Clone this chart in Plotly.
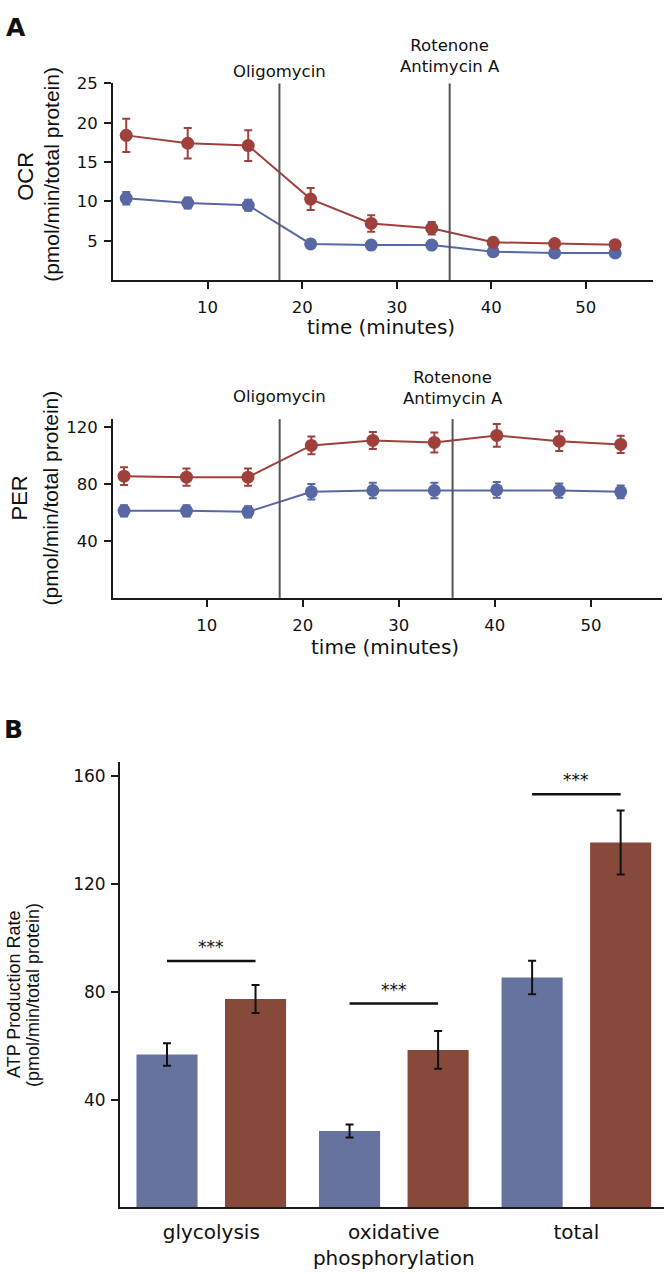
import plotly.graph_objects as go

# ---------------- data ----------------
time_min = [1.4, 7.9, 14.3, 20.9, 27.3, 33.7, 40.2, 46.7, 53.1]
injections = [17.6, 35.6]
injection_labels = ["Oligomycin", "Rotenone<br>Antimycin A"]

ocr_ctrl = [10.4, 9.8, 9.5, 4.6, 4.45, 4.45, 3.6, 3.45, 3.45]
ocr_ctrl_err = [0.8, 0.7, 0.7, 0.3, 0.3, 0.3, 0.35, 0.3, 0.3]
ocr_trt = [18.4, 17.4, 17.1, 10.3, 7.2, 6.6, 4.8, 4.65, 4.5]
ocr_trt_err = [2.1, 1.95, 1.95, 1.4, 1.05, 0.8, 0.35, 0.3, 0.3]

per_ctrl = [61.1, 61.1, 60.4, 74.5, 75.4, 75.4, 75.9, 75.4, 74.5]
per_ctrl_err = [4.0, 4.0, 4.0, 5.5, 5.5, 5.5, 5.5, 5.0, 4.5]
per_trt = [85.5, 84.8, 84.8, 107.1, 110.6, 109.2, 114.1, 110.1, 107.8]
per_trt_err = [6.3, 6.0, 6.0, 6.3, 6.0, 7.0, 8.0, 7.0, 6.0]

atp_categories = ["glycolysis", "oxidative<br>phosphorylation", "total"]
atp_ctrl = [56.8, 28.4, 85.4]
atp_ctrl_err = [4.2, 2.4, 6.2]
atp_trt = [77.4, 58.5, 135.5]
atp_trt_err = [5.2, 7.0, 11.9]
sig_levels = [91.5, 75.7, 153.4]
sig_labels = ["***", "***", "***"]

# ---------------- style ----------------
W, H = 664, 1274
FONT = "DejaVu Sans, Liberation Sans, sans-serif"
FONT_ROT = "Liberation Sans, Arial, sans-serif"
RED_LINE = "#a0403c"
BLUE_LINE = "#5868a5"
RED_BAR = "#87493a"
BLUE_BAR = "#66739e"
AX = "#1a1a1a"
VLINE = "#555555"


def px(x):
    return x / W


def py(y):
    return 1 - y / H


fig = go.Figure()


def add_line(xa, ya, y, err, color):
    fig.add_trace(go.Scatter(
        x=time_min, y=y, mode="lines+markers", xaxis=xa, yaxis=ya,
        line=dict(color=color, width=2),
        marker=dict(color=color, size=13),
        error_y=dict(type="data", array=err, color=color, thickness=2, width=4),
        showlegend=False, cliponaxis=False,
    ))


add_line("x", "y", ocr_ctrl, ocr_ctrl_err, BLUE_LINE)
add_line("x", "y", ocr_trt, ocr_trt_err, RED_LINE)
add_line("x2", "y2", per_ctrl, per_ctrl_err, BLUE_LINE)
add_line("x2", "y2", per_trt, per_trt_err, RED_LINE)

fig.add_trace(go.Bar(
    x=atp_categories, y=atp_ctrl, xaxis="x3", yaxis="y3",
    marker=dict(color=BLUE_BAR, line=dict(width=0)),
    error_y=dict(type="data", array=atp_ctrl_err, color="#111", thickness=2, width=4),
    showlegend=False,
))
fig.add_trace(go.Bar(
    x=atp_categories, y=atp_trt, xaxis="x3", yaxis="y3",
    marker=dict(color=RED_BAR, line=dict(width=0)),
    error_y=dict(type="data", array=atp_trt_err, color="#111", thickness=2, width=4),
    showlegend=False,
))

BARGAP = 0.03
BARGROUPGAP = 0.31
half_slot = (1 - BARGAP) / 4  # offset of each bar centre from category centre

common_axis = dict(
    showline=True, linecolor=AX, linewidth=2, showgrid=False, zeroline=False,
    ticks="outside", tickcolor=AX, tickwidth=2, ticklen=7,
    tickfont=dict(family=FONT, size=16.5, color="#111"),
)

fig.update_layout(
    width=W, height=H, margin=dict(l=0, r=0, t=0, b=0),
    paper_bgcolor="white", plot_bgcolor="white",
    barmode="group", bargap=BARGAP, bargroupgap=BARGROUPGAP,
    font=dict(family=FONT, color="#111"),
    xaxis=dict(common_axis, domain=[px(113), px(653)], range=[0, 57.1],
               tickvals=[10, 20, 30, 40, 50], anchor="y", ticklabelstandoff=4),
    yaxis=dict(common_axis, domain=[py(273), py(75)], range=[0, 25],
               tickvals=[5, 10, 15, 20, 25], anchor="x", ticklabelstandoff=3),
    xaxis2=dict(common_axis, domain=[px(113), px(662)], range=[0.25, 57.4],
                tickvals=[10, 20, 30, 40, 50], anchor="y2", ticklabelstandoff=4),
    yaxis2=dict(common_axis, domain=[py(593), py(413)], range=[0, 125.6],
                tickvals=[40, 80, 120], anchor="x2", ticklabelstandoff=3),
    xaxis3=dict(common_axis, domain=[px(120), 1.0], range=[-0.5, 2.48],
                ticks="", anchor="y3", ticklabelstandoff=6,
                tickfont=dict(family=FONT, size=20, color="#111")),
    yaxis3=dict(common_axis, domain=[py(1207), py(758)], range=[0, 165.5],
                tickvals=[40, 80, 120, 160], anchor="x3", ticklabelstandoff=2,
                tickfont=dict(family=FONT, size=17, color="#111")),
)

# injection lines + labels
label_y = {("x", 0): 63, ("x", 1): 47, ("x2", 0): 390, ("x2", 1): 382}
for xa, ya in [("x", "y"), ("x2", "y2")]:
    for i, t in enumerate(injections):
        fig.add_shape(type="line", xref=xa, yref=f"{ya} domain", x0=t, x1=t, y0=0, y1=1,
                      line=dict(color=VLINE, width=2))
        fig.add_annotation(x=t, xref=xa, y=py(label_y[(xa, i)]), yref="paper",
                           text=injection_labels[i], showarrow=False,
                           font=dict(family=FONT, size=16.5, color="#111"),
                           xanchor="center", yanchor="middle")

# significance bars
for i, (lvl, lab) in enumerate(zip(sig_levels, sig_labels)):
    fig.add_shape(type="line", xref="x3", yref="y3", x0=i - half_slot, x1=i + half_slot,
                  y0=lvl, y1=lvl, line=dict(color="#111", width=2.5))
    fig.add_annotation(x=i, xref="x3", y=lvl, yref="y3", text=lab, showarrow=False,
                       font=dict(family=FONT, size=17, color="#111"),
                       xanchor="center", yanchor="bottom", yshift=2)


# axis titles / panel labels as annotations
def ann(text, x, y, size, angle=0, bold=False, family=FONT):
    fig.add_annotation(x=px(x), y=py(y), xref="paper", yref="paper", text=text,
                       showarrow=False, textangle=angle, xanchor="center", yanchor="middle",
                       font=dict(family=family, size=size, color="#111",
                                 weight="bold" if bold else "normal"))


ann("A", 16, 19, 25, bold=True)
ann("B", 14, 726, 25, bold=True)
ann("OCR", 26, 169, 22, angle=-90, family=FONT_ROT)
ann("(pmol/min/total protein)", 52, 167, 21, angle=-90, family=FONT_ROT)
ann("time (minutes)", 381, 320, 20)
ann("PER", 20, 493, 22, angle=-90, family=FONT_ROT)
ann("(pmol/min/total protein)", 51, 493, 21, angle=-90, family=FONT_ROT)
ann("time (minutes)", 385, 643, 20)
ann("ATP Production Rate", 14, 993, 18, angle=-90, family=FONT_ROT)
ann("(pmol/min/total protein)", 33, 993, 18, angle=-90, family=FONT_ROT)

fig.write_html("out.html", config={"displayModeBar": False},
               post_script="document.body.style.margin='0';")
